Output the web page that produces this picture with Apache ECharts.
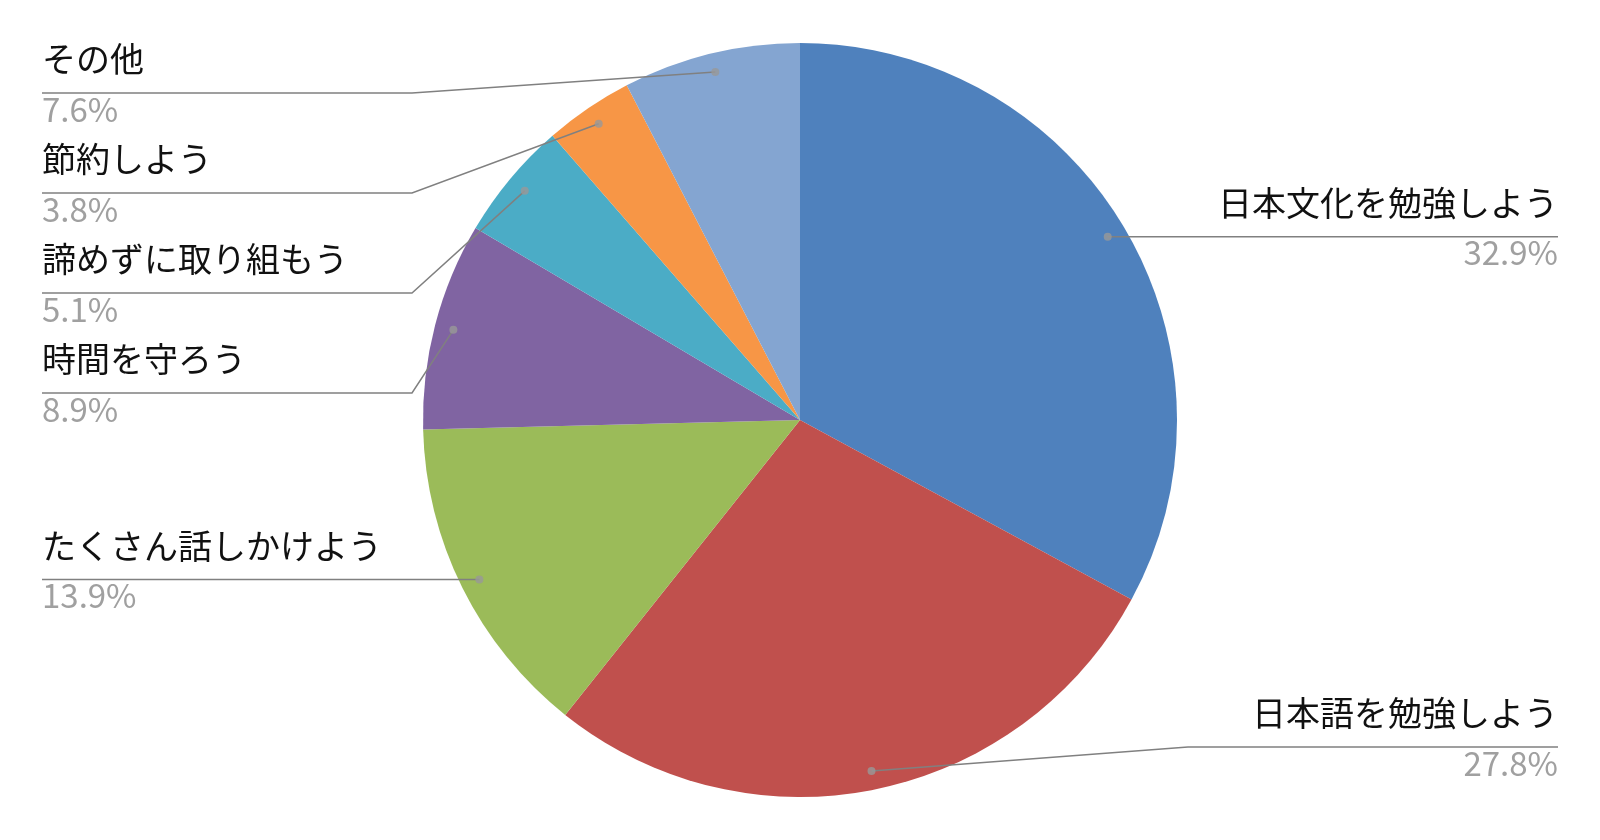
<!DOCTYPE html>
<html><head><meta charset="utf-8">
<script src="https://cdn.jsdelivr.net/npm/echarts@6/dist/echarts.min.js"></script>
<style>html,body{margin:0;padding:0;background:#fff}#c{width:1600px;height:840px}</style>
</head><body><div id="c"></div>
<script>
const categories = ['日本文化を勉強しよう','日本語を勉強しよう','たくさん話しかけよう','時間を守ろう','諦めずに取り組もう','節約しよう','その他'];
const values = [32.9, 27.8, 13.9, 8.9, 5.1, 3.8, 7.6];
const colors = ['#4F81BD','#C0504D','#9BBB59','#8064A2','#4BACC6','#F79646','#84A5D1'];

const FONT = '"Noto Sans CJK JP", "Noto Sans", sans-serif';
const CX = 800, CY = 420, R = 377, DOT_R = 0.95;
const LABEL_H = 100, LABEL_W = 370, EDGE = 42;

const total = values.reduce((a, b) => a + b, 0);
const mids = []; let acc = 0;
values.forEach(v => { mids.push(acc + v / 2); acc += v; });
const dots = mids.map(m => { const a = m / total * 2 * Math.PI; return [CX + DOT_R * R * Math.sin(a), CY - DOT_R * R * Math.cos(a)]; });
const side = mids.map(m => (m / total < 0.5 ? 'right' : 'left'));
const labelY = new Array(values.length);
['left', 'right'].forEach(s => {
  const idx = values.map((_, i) => i).filter(i => side[i] === s).sort((a, b) => dots[a][1] - dots[b][1]);
  const top = CY - R + LABEL_H / 2, bottom = CY + R - LABEL_H / 2;
  let prev = -Infinity;
  idx.forEach(i => {
    let y = Math.min(Math.max(dots[i][1], top), bottom);
    y = Math.max(y, prev + LABEL_H);
    labelY[i] = y; prev = y;
  });
});

const chart = echarts.init(document.getElementById('c'));
const W = 1600;
const pieData = categories.map((c, i) => ({ name: c, value: values[i], itemStyle: { color: colors[i] } }));
chart.setOption({
  backgroundColor: '#ffffff',
  animation: false,
  polar: { center: [CX, CY], radius: R },
  angleAxis: { type: 'value', min: 0, max: total, startAngle: 90, clockwise: true, show: false },
  radiusAxis: { type: 'value', min: 0, max: 1, show: false },
  series: [
    {
      type: 'pie',
      z: 2,
      center: [CX, CY],
      radius: R,
      startAngle: 90,
      clockwise: true,
      silent: true,
      data: pieData,
      label: { show: false },
      labelLine: { show: false }
    },
    {
      type: 'pie',
      z: 5,
      center: [CX, CY],
      radius: R,
      startAngle: 90,
      clockwise: true,
      avoidLabelOverlap: false,
      silent: true,
      itemStyle: { color: 'rgba(0,0,0,0)' },
      data: categories.map((c, i) => ({ name: c, value: values[i] })),
      label: {
        show: true,
        position: 'outside',
        formatter: p => side[p.dataIndex] === 'left'
          ? `{nl|${p.name}}\n{pl|${p.value.toFixed(1)}%}`
          : `{nr|${p.name}}\n{pr|${p.value.toFixed(1)}%}`,
        rich: {
          nl: { fontSize: 34, lineHeight: 32, color: '#111111', fontFamily: FONT },
          pl: { fontSize: 33, lineHeight: 68, color: '#a0a0a0', fontFamily: FONT },
          nr: { fontSize: 34, lineHeight: 32, color: '#111111', fontFamily: FONT, align: 'right' },
          pr: { fontSize: 33, lineHeight: 68, color: '#a0a0a0', fontFamily: FONT, align: 'right' }
        }
      },
      labelLine: { show: true, length: 10, length2: 10, smooth: false, lineStyle: { color: '#808080', width: 1.5 } },
      labelLayout: function (p) {
        const i = p.dataIndex, y = labelY[i], d = dots[i];
        if (side[i] === 'left') {
          const xl = EDGE, xr = EDGE + LABEL_W;
          return { x: xl, y: y, align: 'left', verticalAlign: 'middle', labelLinePoints: [d, [xr, y], [xl, y]] };
        }
        const xr = W - EDGE, xl = xr - LABEL_W;
        return { x: xr, y: y, align: 'right', verticalAlign: 'middle', labelLinePoints: [d, [xl, y], [xr, y]] };
      }
    },
    {
      type: 'scatter',
      coordinateSystem: 'polar',
      silent: true,
      z: 10,
      symbolSize: 8,
      itemStyle: { color: '#999999' },
      data: mids.map(m => [DOT_R, m])
    }
  ]
});
</script></body></html>
